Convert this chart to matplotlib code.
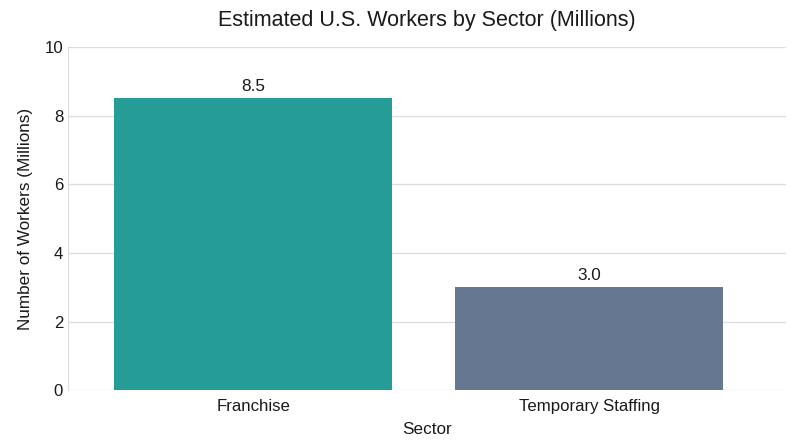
import matplotlib
matplotlib.use("Agg")
import matplotlib.pyplot as plt

plt.rcParams['font.family'] = ['Liberation Sans', 'DejaVu Sans']

categories = ["Franchise", "Temporary Staffing"]
values = [8.5, 3.0]
colors = ["#259C95", "#667791"]
yticks = [0, 2, 4, 6, 8, 10]

fig = plt.figure(figsize=(8, 4.47), dpi=100)
ax = fig.add_axes([0.085, 0.127, 0.898, 0.768])

x = list(range(len(categories)))
bar_widths = [0.827, 0.798]
ax.bar(x, values, width=bar_widths, color=colors, zorder=3)
for xi, v in zip(x, values):
    ax.text(xi, v + 0.12, f"{v:.1f}", ha="center", va="bottom", fontsize=12.3, color="#1a1a1a")

ax.set_xlim(-0.5506, 1.5863)
ax.set_ylim(0, 10)
ax.set_yticks(yticks)
ax.set_xticks(x)
ax.set_xticklabels(categories, fontsize=12.1, color="#1a1a1a")
ax.tick_params(axis='y', labelsize=12.1, length=0, labelcolor="#1a1a1a")
ax.tick_params(axis='x', length=0, pad=6)
ax.grid(axis='y', color="#dddddd", linewidth=1, zorder=0)
for s in ["top", "right", "bottom"]:
    ax.spines[s].set_visible(False)
ax.spines["left"].set_color("#dddddd")
ax.set_xlabel("Sector", fontsize=12.3, labelpad=6, color="#1a1a1a")
ax.set_ylabel("Number of Workers (Millions)", fontsize=12.3, labelpad=8, color="#1a1a1a")
ax.set_title("Estimated U.S. Workers by Sector (Millions)", fontsize=15.5, pad=15, color="#1a1a1a")

fig.savefig("out.png", dpi=100)
